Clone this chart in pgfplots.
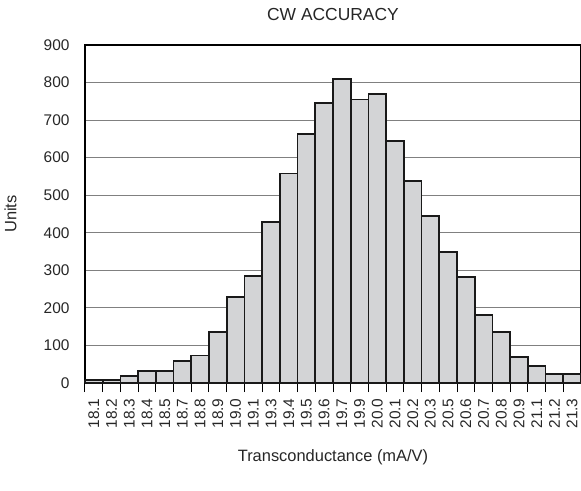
\documentclass[border=0pt]{standalone}
\usepackage{fontspec}
\setmainfont{Liberation Sans}
\usepackage{pgfplots}
\pgfplotsset{compat=1.18}
\definecolor{barfill}{RGB}{211,212,214}
\definecolor{gridc}{RGB}{128,128,128}
\begin{document}
\begin{tikzpicture}
\useasboundingbox (-85bp,-108bp) rectangle (496bp,383bp);
\begin{axis}[
  scale only axis,
  width=496bp, height=338bp,
  at={(0,0)}, anchor=south west,
  xmin=-0.5, xmax=27.5,
  ymin=0, ymax=900,
  ytick={0,100,...,900},
  xtick={0,...,27},
  xticklabels={18.1,18.2,18.3,18.4,18.5,18.7,18.8,18.9,19.0,19.1,19.3,19.4,19.5,19.6,19.7,19.9,20.0,20.1,20.2,20.3,20.5,20.6,20.7,20.8,20.9,21.1,21.2,21.3},
  minor xtick={-0.5,0.5,...,27.5},
  major tick length=0pt,
  minor tick length=9bp,
  tick align=outside,
  xtick pos=bottom, ytick pos=left,
  minor tick style={black, line width=1bp},
  ymajorgrids,
  grid style={gridc, line width=1.2bp},
  axis line style={black, line width=2bp},
  /pgf/number format/assume math mode=true,
  ticklabel style={font=\fontsize{15.5}{16}\selectfont, text=black!85},
  xticklabel style={rotate=90, anchor=east, xshift=-12bp},
  yticklabel style={xshift=-12bp},
  ylabel={Units},
  ylabel style={font=\fontsize{16.5}{17}\selectfont, text=black!85, at={(-84bp,169bp)}, anchor=north, rotate=0},
  xlabel={Transconductance (mA/V)},
  xlabel style={font=\fontsize{16.5}{17}\selectfont, text=black!85, at={(248bp,-74bp)}, anchor=center},
  title={CW ACCURACY},
  title style={font=\fontsize{17.5}{18}\selectfont, text=black!85, at={(248bp,363bp)}, anchor=center},
]
\addplot[ybar, bar width=1, fill=barfill, draw=black!90, line width=1.8bp] coordinates {
(0,8) (1,8) (2,19) (3,31) (4,31) (5,58) (6,73) (7,135) (8,230) (9,285)
(10,429) (11,558) (12,664) (13,745) (14,810) (15,755) (16,769) (17,644)
(18,537) (19,444) (20,349) (21,282) (22,181) (23,136) (24,69) (25,45)
(26,23) (27,23)
};
\end{axis}
\end{tikzpicture}
\end{document}
